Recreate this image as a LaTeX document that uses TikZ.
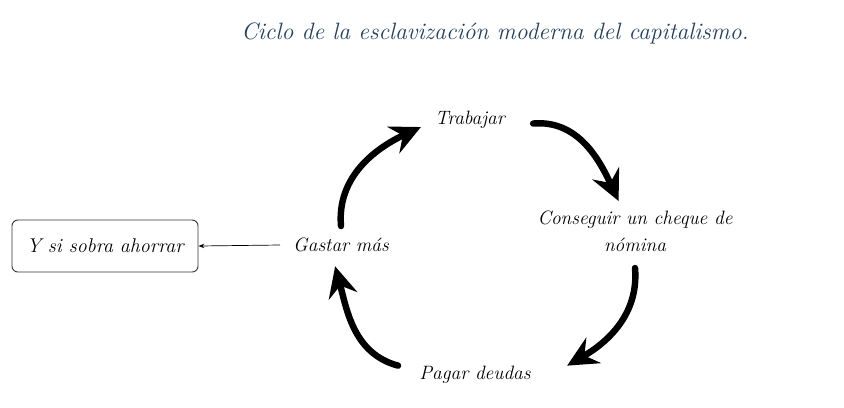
\documentclass[tikz,border=0pt]{standalone}
\usepackage{tikz}
\usetikzlibrary{
  arrows.meta,  % Stealth 箭头
  positioning   % 节点相对定位
}
\definecolor{titleblue}{HTML}{22405E}
\tikzset{
  cycle arrow/.style={
    -{Stealth[length=26pt,width=25pt,inset=9pt]},
    line width=5.5pt,
    line cap=round,
    color=black
  },
  step label/.style={
    font=\fontsize{16.5}{20}\selectfont\itshape,
    align=center,
    inner sep=2pt
  },
  save box/.style={
    draw=black!80,
    rounded corners=5pt,
    line width=0.8pt,
    minimum width=5.58cm,
    minimum height=1.56cm,
    font=\fontsize{17}{20}\selectfont\itshape
  }
}

\begin{document}
\begin{tikzpicture}[x=0.03cm, y=-0.03cm]
  % 画布范围 (像素坐标)
  \useasboundingbox (0,0) rectangle (844,407);

  % ==== 1. 标题 ====
  \node[text=titleblue, font=\fontsize{20.2}{24}\selectfont\itshape] (title) at (495,33)
    {Ciclo de la esclavizaci\'on moderna del capitalismo.};

  % ==== 2. 循环中的四个步骤 ====
  \node[step label] (trabajar) at (470,120) {Trabajar};
  \node[step label] (cheque) at (635,231) {Conseguir un cheque de\\[3pt] n\'omina};
  \node[step label] (pagar) at (475,375) {Pagar deudas};
  \node[step label] (gastar) at (341,245) {Gastar m\'as};

  % 左侧方框
  \node[save box] (ahorrar) at (105,246) {Y si sobra ahorrar};

  % ==== 3. 循环箭头 ====
  \draw[cycle arrow] ([yshift=8pt]gastar.north) to[out=95,in=205] ([xshift=-10pt,yshift=-6pt]trabajar.west);
  \draw[cycle arrow] ([xshift=22pt,yshift=-3pt]trabajar.east) to[out=5,in=115] ([xshift=-14pt,yshift=6pt]cheque.north);
  \draw[cycle arrow] ([yshift=-12pt]cheque.south) to[out=-85,in=30] ([xshift=29pt,yshift=8pt]pagar.east);
  \draw[cycle arrow] ([xshift=-16pt,yshift=8pt]pagar.west) to[out=165,in=-75] ([xshift=-5pt,yshift=-10pt]gastar.south);

  % 指向方框的细箭头
  \draw[-{Stealth[length=5pt]}, line width=0.6pt] ([xshift=-9pt]gastar.west) -- (ahorrar.east);
\end{tikzpicture}
\end{document}
